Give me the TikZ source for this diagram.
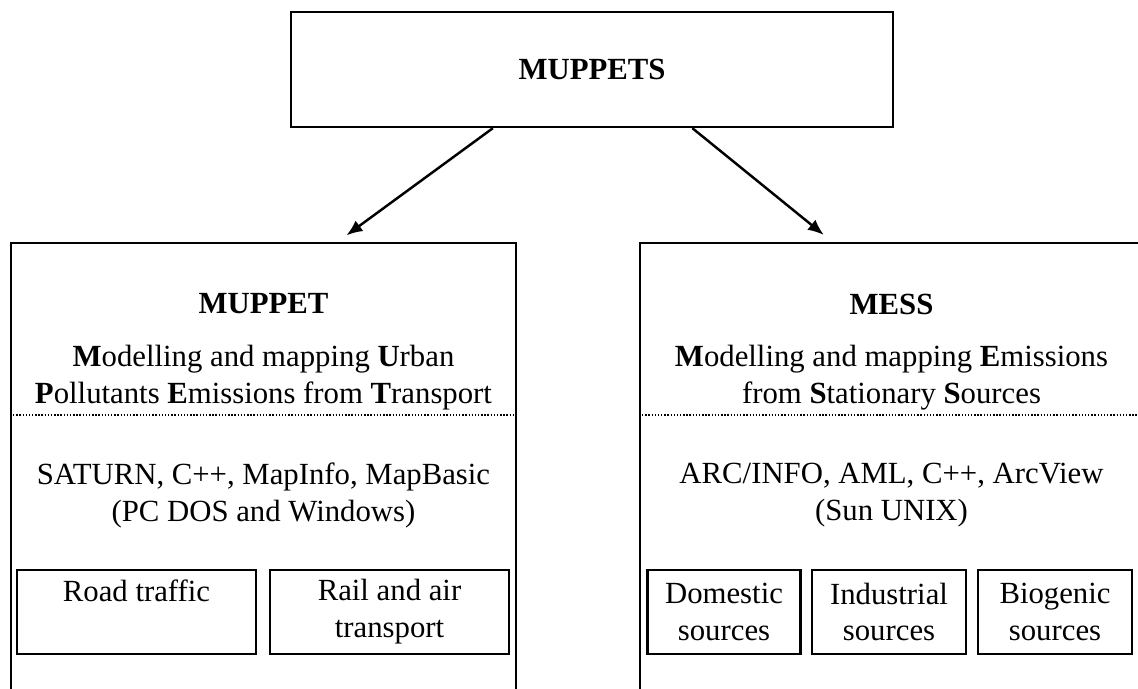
\documentclass[tikz,border=0pt]{standalone}
\usepackage{fontspec}
\setmainfont{Liberation Serif}
\usetikzlibrary{calc,arrows.meta}

\begin{document}
\begin{tikzpicture}[
    every node/.style={font=\fontsize{17.5}{21}\selectfont},
    frame/.style={draw,line width=1.3pt,inner sep=0pt},
    part/.style={frame,minimum height=1.68cm,align=center},
    link/.style={line width=1.4pt,-{Latex[length=0.32cm,width=0.26cm]},shorten >=0.22cm},
    sep/.style={densely dotted,line width=0.8pt}
]
    \clip (0,0) rectangle (22.76,-13.78);

    \node[frame,minimum width=12.04cm,minimum height=2.3cm] (muppets) at (11.84,-1.39) {\textbf{MUPPETS}};

    % the two model frames run off the bottom of the page
    \node[frame,minimum width=10.1cm,minimum height=9.34cm] (muppet) at (5.27,-9.53) {};
    \node[frame,minimum width=10.06cm,minimum height=9.34cm] (mess) at (17.83,-9.53) {};

    \draw[link] ($(muppets.south west)!0.336!(muppets.south east)$)
        -- ($(muppet.north west)!0.646!(muppet.north east)$);
    \draw[link] ($(muppets.south west)!0.666!(muppets.south east)$)
        -- ($(mess.north west)!0.383!(mess.north east)$);

    \begin{scope}[
        xshift=5.27cm
    ]
        \node (muppettitle) at (0,-6.08) {\textbf{MUPPET}};
        \node[align=center] (muppetname) at (0,-7.55)
            {\textbf{M}odelling and mapping \textbf{U}rban\\
             \textbf{P}ollutants \textbf{E}missions from \textbf{T}ransport};
        \node[align=center] (muppettools) at (0,-9.91)
            {SATURN, C++, MapInfo, MapBasic\\(PC DOS and Windows)};
        \node[part,minimum width=4.78cm] (road) at (-2.54,-12.24) {Road traffic\\\phantom{y}};
        \node[part,minimum width=4.78cm] (rail) at (2.52,-12.24) {Rail and air\\transport};
    \end{scope}
    \draw[sep] (muppet.west |- 0,-8.3) -- (muppet.east |- 0,-8.3);

    \begin{scope}[
        xshift=17.83cm
    ]
        \node (messtitle) at (0,-6.08) {\textbf{MESS}};
        \node[align=center] (messname) at (0,-7.55)
            {\textbf{M}odelling and mapping \textbf{E}missions\\
             from \textbf{S}tationary \textbf{S}ources};
        \node[align=center] (messtools) at (0,-9.91)
            {ARC/INFO, AML, C++, ArcView\\(Sun UNIX)};
        \node[part,minimum width=3.06cm] (domestic) at (-3.35,-12.24) {Domestic\\sources};
        \node[part,minimum width=3.08cm] (industrial) at (-0.05,-12.24) {Industrial\\sources};
        \node[part,minimum width=3.08cm] (biogenic) at (3.27,-12.24) {Biogenic\\sources};
    \end{scope}
    \draw[sep] (mess.west |- 0,-8.3) -- (mess.east |- 0,-8.3);
\end{tikzpicture}
\end{document}
